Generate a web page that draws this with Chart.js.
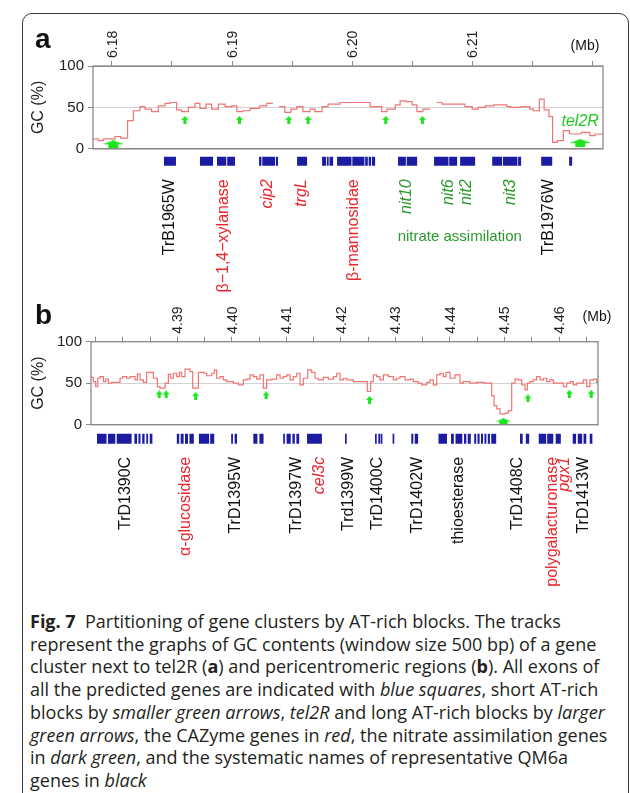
<!DOCTYPE html>
<html>
<head>
<meta charset="utf-8">
<script src="https://cdn.jsdelivr.net/npm/chart.js@4/dist/chart.umd.min.js"></script>
<style>
  body { margin: 0; background: #fff; }
  #page { position: relative; width: 630px; height: 793px; overflow: hidden; }
  #frame { position: absolute; left: 22px; top: 13px; width: 607px; height: 900px; box-sizing: border-box;
           border: 1.5px solid #3a3a3a; border-radius: 10px; }
  canvas { position: absolute; left: 0; }
  #caption { position: absolute; left: 30px; top: 610px; font-family: "Open Sans", sans-serif; font-size: 18px;
             line-height: 22.7px; color: #231f20; white-space: nowrap; }
  #caption i { font-style: italic; }
</style>
</head>
<body>
<div id="page">
  <div id="frame"></div>
  <canvas id="chartA" width="630" height="310" style="top:0"></canvas>
  <canvas id="chartB" width="630" height="315" style="top:290px"></canvas>
  <div id="caption">
    <div><b>Fig. 7</b>&nbsp; Partitioning of gene clusters by AT-rich blocks. The tracks</div>
    <div>represent the graphs of GC contents (window size 500 bp) of a gene</div>
    <div>cluster next to tel2R (<b>a</b>) and pericentromeric regions (<b>b</b>). All exons of</div>
    <div>all the predicted genes are indicated with <i>blue squares</i>, short AT-rich</div>
    <div>blocks by <i>smaller green arrows</i>, <i>tel2R</i> and long AT-rich blocks by <i>larger</i></div>
    <div><i>green arrows</i>, the CAZyme genes in <i>red</i>, the nitrate assimilation genes</div>
    <div>in <i>dark green</i>, and the systematic names of representative QM6a</div>
    <div>genes in <i>black</i></div>
  </div>
</div>
<script>
// ---- panel a: region next to tel2R (positions in Mb, GC in %) ----
// each window starts at aPos[i] and has GC aGC[i]; last aPos is the end
const aPos = [6.17842, 6.17886, 6.17928, 6.18025, 6.18072, 6.1813, 6.18178, 6.18233, 6.18275, 6.1833,
              6.18386, 6.18442, 6.18483, 6.18539, 6.1858, 6.18636, 6.18692, 6.18733, 6.18783, 6.1883,
              6.18886, 6.18942, 6.18997, 6.1904, 6.1909, 6.1915, 6.1923, 6.1929, 6.1934, 6.1939,
              6.1944, 6.1949, 6.1954, 6.1959, 6.1965, 6.1969, 6.1975, 6.198, 6.199, 6.2015,
              6.20247, 6.2029, 6.2036, 6.204, 6.20447, 6.205, 6.2054, 6.2059, 6.2065, 6.20705,
              6.2075, 6.2094, 6.21, 6.2105, 6.2111, 6.2118, 6.2129, 6.2132, 6.2141, 6.2148,
              6.2151, 6.2156, 6.216, 6.2164, 6.2167, 6.2171, 6.2176, 6.2181, 6.2191, 6.2198,
              6.22025, 6.2209];
const aGC = [12, 10, 12, 15, 13, 34, 46, 51, 48, 45,
             52, 55, 56, 47, 45, 50, 55, 49, 54, 48,
             54, 51, 52, 45, 46, 49, 52, 55, null, 51,
             44, 48, 51, 45, 48, 45, 51, 54, 56, 51,
             45, 48, 53, 58, 57, 53, 45, 48, null, 56,
             54, 51, 48, 50, 52, 53, 51, 50, 51, 48,
             46, 60, 47, 39, 8, 10, 22, 18, 20, 16,
             18];
const aTicks = [6.18, 6.185, 6.19, 6.195, 6.2, 6.205, 6.21, 6.215, 6.22];
const aTickLabels = [6.18, 6.19, 6.20, 6.21];
const aSmallArrowPos = [6.18607, 6.19062, 6.19473, 6.19633, 6.2028, 6.20586];
const aSmallArrowGC = [35, 35, 35, 35, 35, 35];
const aBigArrowPos = [6.18011, 6.219];
const aBigArrowGC = [5.5, 7];
const aExonStart = [6.18433, 6.18733, 6.18875, 6.1896, 6.19225, 6.19252, 6.19365, 6.19542, 6.1975, 6.1979,
                    6.19812, 6.19875, 6.20002, 6.20109, 6.20138, 6.20166, 6.20383, 6.20455, 6.20683, 6.20809,
                    6.209, 6.21167, 6.21257, 6.21383, 6.21575, 6.21808];
const aExonEnd = [6.18533, 6.18842, 6.18952, 6.19025, 6.19245, 6.19358, 6.19383, 6.19625, 6.19783, 6.19805,
                  6.19842, 6.19995, 6.20103, 6.20131, 6.20159, 6.20192, 6.20448, 6.20542, 6.20803, 6.20875,
                  6.21025, 6.2125, 6.21377, 6.21408, 6.21667, 6.21833];
const aGenes = ['TrB1965W', 'β−1,4−xylanase', 'cip2', 'trgL', 'β-mannosidae', 'nit10', 'nit6', 'nit2', 'nit3', 'TrB1976W'];
const aGenePos = [6.18483, 6.18932, 6.193, 6.19583, 6.20015, 6.20454, 6.208, 6.2095, 6.21317, 6.2164];
const aGeneKind = ['name', 'cazyme', 'cazymeGene', 'cazymeGene', 'cazyme', 'nitrate', 'nitrate', 'nitrate', 'nitrate', 'name'];

// ---- panel b: pericentromeric region ----
const bPos = [4.37417, 4.3746, 4.37503, 4.3754, 4.37583, 4.37644, 4.37687, 4.37736, 4.37797, 4.37949,
              4.37998, 4.38072, 4.38133, 4.38225, 4.38267, 4.38316, 4.38377, 4.38438, 4.38561, 4.38634,
              4.38683, 4.38775, 4.38836, 4.38879, 4.38927, 4.38989, 4.39038, 4.3908, 4.39141, 4.39233,
              4.39282, 4.39386, 4.3949, 4.39539, 4.3963, 4.39679, 4.39722, 4.39783, 4.39844, 4.39906,
              4.40028, 4.40119, 4.40211, 4.40272, 4.40333, 4.40395, 4.40456, 4.40517, 4.40578, 4.40639,
              4.40731, 4.40822, 4.40884, 4.40945, 4.41006, 4.41067, 4.41128, 4.41189, 4.4125, 4.41311,
              4.41391, 4.41464, 4.41525, 4.41586, 4.41678, 4.4177, 4.41862, 4.41923, 4.41984, 4.42045,
              4.42106, 4.42229, 4.42485, 4.42546, 4.42595, 4.42656, 4.42717, 4.42779, 4.4287, 4.42962,
              4.43023, 4.43084, 4.43176, 4.43268, 4.43329, 4.4342, 4.43482, 4.43573, 4.43634, 4.43695,
              4.43757, 4.43818, 4.43879, 4.43928, 4.44001, 4.44093, 4.44184, 4.44246, 4.44368, 4.4449,
              4.44625, 4.44765, 4.44808, 4.44857, 4.44918, 4.4501, 4.45071, 4.45132, 4.45193, 4.45254,
              4.45315, 4.45376, 4.45419, 4.45468, 4.45529, 4.4559, 4.45652, 4.45713, 4.45774, 4.45835,
              4.45896, 4.46079, 4.46141, 4.46202, 4.46263, 4.46324, 4.46446, 4.46507, 4.46568, 4.4663,
              4.46691, 4.46715];
const bGC = [57, 52, 46, 56, 58, 52, 55, 50, 51, 56,
             58, 56, 58, 54, 61, 54, 51, 63, 56, 46,
             44, 50, 61, 56, 62, 58, 63, 58, 67, 64,
             44, 63, 62, 59, 62, 66, 56, 58, 54, 52,
             50, 48, 54, 55, 60, 58, 55, 60, 44, 54,
             55, 60, 56, 58, 60, 54, 58, 62, 48, 56,
             66, 63, 56, 54, 57, 55, 58, 62, 54, 56,
             54, 52, 40, 52, 60, 58, 54, 60, 58, 54,
             56, 58, 54, 55, 52, 50, 48, 51, 54, 48,
             60, 62, 58, 63, 56, 60, 50, 52, 50, 51,
             50, 35, 23, 19, 13, 14, 17, 50, 55, 54,
             48, 42, 50, 52, 54, 58, 54, 56, 52, 54,
             50, 46, 50, 52, 48, 50, 54, 46, 54, 55,
             51];
const bTicks = [4.375, 4.38, 4.385, 4.39, 4.395, 4.4, 4.405, 4.41, 4.415, 4.42,
                4.425, 4.43, 4.435, 4.44, 4.445, 4.45, 4.455, 4.46, 4.465];
const bTickLabels = [4.39, 4.40, 4.41, 4.42, 4.43, 4.44, 4.45, 4.46];
const bSmallArrowPos = [4.38667, 4.38795, 4.39336, 4.40628, 4.42525, 4.4543, 4.4619, 4.4659];
const bSmallArrowGC = [36.5, 36.5, 34.5, 35.3, 29.8, 31.7, 37.3, 37.3];
const bBigArrowPos = [4.4498];
const bBigArrowGC = [3.6];
const bExonStart = [4.37527, 4.37727, 4.37889, 4.38213, 4.38287, 4.38356, 4.38431, 4.38494, 4.38991, 4.39061,
                    4.39141, 4.39222, 4.39396, 4.39602, 4.39988, 4.40051, 4.40394, 4.40506, 4.40942, 4.41004,
                    4.41111, 4.41184, 4.41379, 4.42075, 4.42626, 4.42686, 4.42736, 4.42948, 4.43291, 4.43354,
                    4.4379, 4.44019, 4.44102, 4.44258, 4.44326, 4.44445, 4.44505, 4.44569, 4.44632, 4.44694,
                    4.44757, 4.45285, 4.45391, 4.45628, 4.45783, 4.45939, 4.46251, 4.46344, 4.4645, 4.46563];
const bExonEnd = [4.37702, 4.37863, 4.38162, 4.38263, 4.38325, 4.384, 4.38463, 4.38543, 4.39035, 4.39116,
                  4.39196, 4.39303, 4.39583, 4.39677, 4.4002, 4.40095, 4.40469, 4.40581, 4.40973, 4.4108,
                  4.41155, 4.41235, 4.41652, 4.42107, 4.42657, 4.42725, 4.42761, 4.42979, 4.43328, 4.43416,
                  4.43946, 4.44071, 4.44227, 4.443, 4.44382, 4.44481, 4.44544, 4.44606, 4.44668, 4.44733,
                  4.44848, 4.45334, 4.45453, 4.45765, 4.45895, 4.46033, 4.46313, 4.46425, 4.465, 4.46612];
const bGenes = ['TrD1390C', 'α-glucosidase', 'TrD1395W', 'TrD1397W', 'cel3c', 'Trd1399W', 'TrD1400C',
                'TrD1402W', 'thioesterase', 'TrD1408C', 'polygalacturonase', 'pgx1', 'TrD1413W'];
const bGenePos = [4.38056, 4.39149, 4.40065, 4.4118, 4.41602, 4.42145, 4.42675, 4.43414, 4.44157, 4.45248,
                  4.45884, 4.46095, 4.46449];
const bGeneKind = ['name', 'cazyme', 'name', 'name', 'cazymeGene', 'name', 'name', 'name', 'name', 'name',
                   'cazyme', 'cazymeGene', 'name'];

const gcTicks = [0, 50, 100];

const FONT = '"Liberation Sans", Arial, sans-serif';
Chart.defaults.font.family = FONT;
Chart.defaults.color = '#222';

const kindColor = { name: '#111', cazyme: '#e8262b', cazymeGene: '#e8262b', nitrate: '#2a9a2a' };
const kindItalic = { name: false, cazyme: false, cazymeGene: true, nitrate: true };

// green arrow used as a point style
function arrowImg(w, h, stem) {
  const c = document.createElement('canvas');
  c.width = w; c.height = h;
  const g = c.getContext('2d');
  g.fillStyle = '#1ee41e';
  g.beginPath();
  g.moveTo(w / 2, 0); g.lineTo(w, h / 2); g.lineTo(0, h / 2);
  g.closePath(); g.fill();
  g.fillRect((w - stem) / 2, h / 2 - 0.5, stem, h / 2 + 0.5);
  return c;
}
const smallArrow = arrowImg(7, 8, 3);
const bigArrowA = arrowImg(22, 8, 10);
const bigArrowB = arrowImg(16, 7, 8);

// windows -> points for a stepped line, breaking at null windows
function stepPoints(pos, gc) {
  const pts = [];
  gc.forEach((v, i) => {
    if (v === null) return;
    pts.push({ x: pos[i], y: v });
    if (i === gc.length - 1 || gc[i + 1] === null) {
      pts.push({ x: pos[i + 1], y: v }, { x: pos[i + 1], y: null });
    }
  });
  return pts;
}

function exonPoints(starts, ends, y) {
  const pts = [];
  starts.forEach((s, i) => pts.push({ x: s, y: y }, { x: ends[i], y: y }, { x: ends[i], y: null }));
  return pts;
}

function makePanel(id, p) {
  const decor = {
    id: 'decor',
    afterDraw(chart) {
      const ctx = chart.ctx, xs = chart.scales.x, ys = chart.scales.y;
      const top = ys.getPixelForValue(100), bot = ys.getPixelForValue(0);
      ctx.save();
      ctx.strokeStyle = '#8a8a8a';
      ctx.lineWidth = 1.3;
      ctx.strokeRect(xs.left, top, xs.right - xs.left, bot - top);

      ctx.fillStyle = '#111';
      ctx.font = 'bold 28px ' + FONT;
      ctx.textAlign = 'left';
      ctx.textBaseline = 'alphabetic';
      ctx.fillText(p.letter, 35, p.letterY);

      ctx.font = '14px ' + FONT;
      ctx.textAlign = 'center';
      ctx.textBaseline = 'middle';
      ctx.fillText('(Mb)', p.mbX, p.mbY);

      // position labels, standing above their tick marks
      ctx.fillStyle = '#222';
      p.tickLabels.forEach(v => {
        ctx.save();
        ctx.translate(xs.getPixelForValue(v) + 1, top - 8);
        ctx.rotate(-Math.PI / 2);
        ctx.textAlign = 'left';
        ctx.fillText(v.toFixed(2), 0, 0);
        ctx.restore();
      });

      ctx.save();
      ctx.font = '16px ' + FONT;
      ctx.textAlign = 'center';
      ctx.translate(39, (top + bot) / 2);
      ctx.rotate(-Math.PI / 2);
      ctx.fillText('GC (%)', 0, 0);
      ctx.restore();

      // gene names under the exon track
      const y0 = ys.getPixelForValue(p.exonY) + 18;
      p.genes.forEach((g, i) => {
        const k = p.kinds[i];
        ctx.save();
        ctx.translate(xs.getPixelForValue(p.genePos[i]), y0);
        ctx.rotate(-Math.PI / 2);
        ctx.font = (kindItalic[k] ? 'italic ' : '') + '16px ' + FONT;
        ctx.fillStyle = kindColor[k];
        ctx.textAlign = 'right';
        ctx.textBaseline = 'middle';
        ctx.fillText(g, 0, 0);
        ctx.restore();
      });

      if (p.extra) p.extra(ctx, xs, ys);
      ctx.restore();
    }
  };

  return new Chart(document.getElementById(id), {
    type: 'scatter',
    data: {
      datasets: [
        { data: stepPoints(p.pos, p.gc), showLine: true, stepped: true, spanGaps: false,
          borderColor: '#f07474', borderWidth: 1.2, pointRadius: 0 },
        { data: p.smallX.map((x, i) => ({ x: x, y: p.smallY[i] })), pointStyle: smallArrow, pointRadius: 4 },
        { data: p.bigX.map((x, i) => ({ x: x, y: p.bigY[i] })), pointStyle: p.bigImg, pointRadius: 4 },
        { data: exonPoints(p.exS, p.exE, p.exonY), showLine: true, spanGaps: false,
          borderColor: '#1c1ca2', borderWidth: p.exonH, borderCapStyle: 'butt', pointRadius: 0 }
      ]
    },
    options: {
      responsive: false,
      animation: false,
      events: [],
      layout: { padding: { left: 0, top: 0, right: p.padRight, bottom: 10 } },
      plugins: { legend: { display: false }, tooltip: { enabled: false } },
      scales: {
        x: {
          type: 'linear', position: 'top', min: p.min, max: p.max,
          afterBuildTicks: s => { s.ticks = p.ticks.map(v => ({ value: v })); },
          afterFit: s => { s.height = p.axisTop; },
          ticks: { display: false, autoSkip: false },
          grid: { drawOnChartArea: false, drawTicks: true, tickLength: 5, color: '#8a8a8a' },
          border: { display: false }
        },
        y: {
          min: p.yMin, max: 100,
          afterBuildTicks: s => { s.ticks = gcTicks.map(v => ({ value: v })); },
          afterFit: s => { s.width = p.axisLeft; },
          ticks: { padding: 4, font: { size: 15 }, color: '#222' },
          grid: { color: c => (c.tick && c.tick.value === 50 ? '#d2d2d2' : '#8a8a8a'),
                  tickColor: '#8a8a8a', tickLength: 5 },
          border: { display: false }
        }
      }
    },
    plugins: [decor]
  });
}

makePanel('chartA', {
  pos: aPos, gc: aGC, ticks: aTicks, tickLabels: aTickLabels,
  smallX: aSmallArrowPos, smallY: aSmallArrowGC, bigX: aBigArrowPos, bigY: aBigArrowGC, bigImg: bigArrowA,
  exS: aExonStart, exE: aExonEnd, exonY: -14.9, exonH: 9,
  genes: aGenes, genePos: aGenePos, kinds: aGeneKind,
  min: 6.17842, max: 6.2209, yMin: -178.6, axisTop: 66, axisLeft: 93, padRight: 27,
  letter: 'a', letterY: 48, mbX: 585, mbY: 46,
  extra: (ctx, xs, ys) => {
    ctx.font = '15px ' + FONT;
    ctx.fillStyle = '#2a9a2a';
    ctx.textAlign = 'center';
    ctx.textBaseline = 'middle';
    ctx.fillText('nitrate assimilation', xs.getPixelForValue(6.20897), ys.getPixelForValue(-14.9) + 75.5);
    ctx.font = 'italic 16px ' + FONT;
    ctx.fillStyle = '#22c822';
    ctx.fillText('tel2R', xs.getPixelForValue(6.219), ys.getPixelForValue(33.5));
  }
});

makePanel('chartB', {
  pos: bPos, gc: bGC, ticks: bTicks, tickLabels: bTickLabels,
  smallX: bSmallArrowPos, smallY: bSmallArrowGC, bigX: bBigArrowPos, bigY: bBigArrowGC, bigImg: bigArrowB,
  exS: bExonStart, exE: bExonEnd, exonY: -17, exonH: 10,
  genes: bGenes, genePos: bGenePos, kinds: bGeneKind,
  min: 4.37417, max: 4.46715, yMin: -201.5, axisTop: 51.7, axisLeft: 91, padRight: 32,
  letter: 'b', letterY: 34, mbX: 597, mbY: 27
});
</script>
</body>
</html>
